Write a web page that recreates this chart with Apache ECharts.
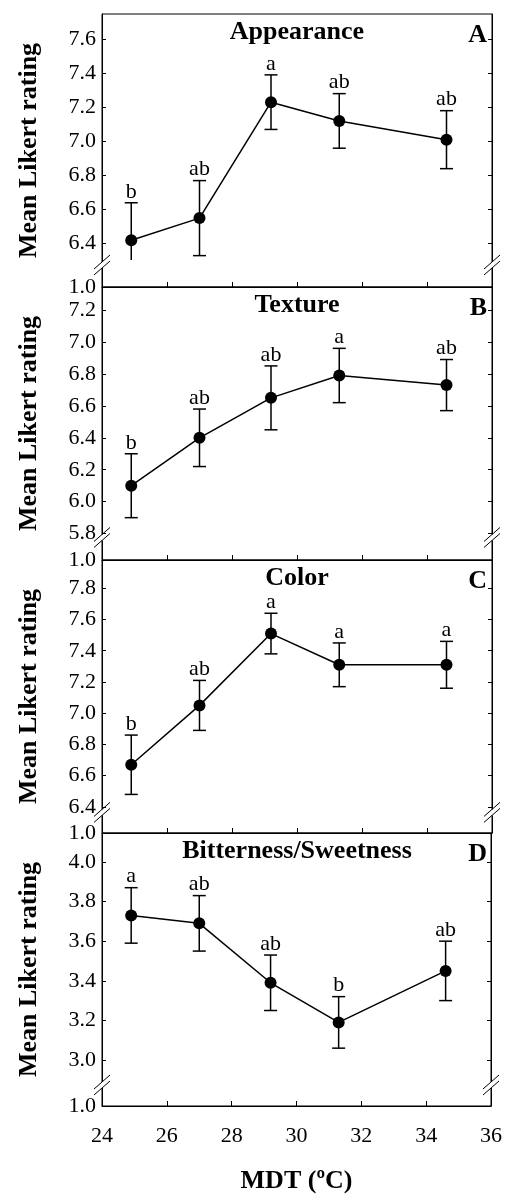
<!DOCTYPE html>
<html>
<head>
<meta charset="utf-8">
<title>Mean Likert rating vs MDT</title>
<script src="https://cdn.jsdelivr.net/npm/echarts@6/dist/echarts.min.js"></script>
<style>
  html, body { margin: 0; padding: 0; background: #fff; }
  #main { width: 505px; height: 1196px; }
</style>
</head>
<body>
<div id="main"></div>
<script type="text/javascript">
// --- data ---
var mdt = [24.9, 27.0, 29.2, 31.3, 34.6];

var appearance    = [6.42, 6.55, 7.23, 7.12, 7.01];
var appearanceErr = [0.22, 0.22, 0.16, 0.16, 0.17];
var appearanceSig = ['b', 'ab', 'a', 'ab', 'ab'];

var texture    = [6.10, 6.40, 6.65, 6.79, 6.73];
var textureErr = [0.20, 0.18, 0.20, 0.17, 0.16];
var textureSig = ['b', 'ab', 'ab', 'a', 'ab'];

var color    = [6.67, 7.05, 7.51, 7.31, 7.31];
var colorErr = [0.19, 0.16, 0.13, 0.14, 0.15];
var colorSig = ['b', 'ab', 'a', 'a', 'a'];

var bitter    = [3.73, 3.69, 3.39, 3.19, 3.45];
var bitterErr = [0.14, 0.14, 0.14, 0.13, 0.15];
var bitterSig = ['a', 'ab', 'ab', 'b', 'ab'];

// y tick labels (the bottom "1.0" sits below the axis break)
var ticksA = [6.4, 6.6, 6.8, 7.0, 7.2, 7.4, 7.6];
var ticksB = [5.8, 6.0, 6.2, 6.4, 6.6, 6.8, 7.0, 7.2];
var ticksC = [6.4, 6.6, 6.8, 7.0, 7.2, 7.4, 7.6, 7.8];
var ticksD = [3.0, 3.2, 3.4, 3.6, 3.8, 4.0];

var panels = [
  {title: 'Appearance', tag: 'A', y: appearance, err: appearanceErr, sig: appearanceSig, ticks: ticksA, min: 6.146, max: 7.747, brk: 6.275},
  {title: 'Texture', tag: 'B', y: texture, err: textureErr, sig: textureSig, ticks: ticksB, min: 5.635, max: 7.344, brk: 5.776},
  {title: 'Color', tag: 'C', y: color, err: colorErr, sig: colorSig, ticks: ticksC, min: 6.233, max: 7.981, brk: 6.365},
  {title: 'Bitterness/Sweetness', tag: 'D', y: bitter, err: bitterErr, sig: bitterSig, ticks: ticksD, min: 2.768, max: 4.146, brk: 2.874}
];

var FONT = "'Liberation Serif', 'Times New Roman', serif";
var BLACK = '#000';

var chart = echarts.init(document.getElementById('main'), null, {renderer: 'canvas'});

var grid = [], xAxis = [], yAxis = [], series = [];

panels.forEach(function (p, i) {
  var last = (i === panels.length - 1);
  grid.push({left: 102, width: 390, top: 14 + i * 273, height: 273,
             show: true, borderColor: BLACK, borderWidth: 1, backgroundColor: 'transparent'});

  xAxis.push({
    type: 'value', gridIndex: i, min: 24, max: 36, interval: 2,
    axisLine: {onZero: false, lineStyle: {color: BLACK, width: 1}},
    axisTick: {inside: true, length: 5, lineStyle: {color: BLACK}},
    axisLabel: {show: last, fontFamily: FONT, fontSize: 22, color: BLACK, margin: 19},
    splitLine: {show: false},
    name: last ? 'MDT (ºC)' : '',
    nameLocation: 'middle', nameGap: 62,
    nameTextStyle: {fontFamily: FONT, fontSize: 26, fontWeight: 'bold', color: BLACK}
  });

  var vals = [p.min].concat(p.ticks);
  var fmt = (function (mn) {
    return function (v) { return Math.abs(v - mn) < 1e-6 ? '1.0' : v.toFixed(1); };
  })(p.min);

  yAxis.push({
    type: 'value', gridIndex: i, min: p.min, max: p.max, position: 'left',
    axisLine: {show: true, lineStyle: {color: BLACK, width: 1}},
    axisTick: {show: true, inside: true, length: 4, customValues: vals, lineStyle: {color: BLACK}},
    axisLabel: {fontFamily: FONT, fontSize: 22, color: BLACK, margin: 6, customValues: vals, formatter: fmt},
    splitLine: {show: false},
    name: 'Mean Likert rating', nameLocation: 'middle', nameGap: 60,
    nameTextStyle: {fontFamily: FONT, fontSize: 26, fontWeight: 'bold', color: BLACK}
  });
  yAxis.push({
    type: 'value', gridIndex: i, min: p.min, max: p.max, position: 'right',
    axisLine: {show: true, lineStyle: {color: BLACK, width: 1}},
    axisTick: {show: true, inside: true, length: 4, customValues: vals, lineStyle: {color: BLACK}},
    axisLabel: {show: false},
    splitLine: {show: false}
  });

  // error bars + significance letters
  series.push({
    type: 'custom', xAxisIndex: i, yAxisIndex: i * 2, z: 2,
    data: mdt.map(function (x, k) { return [x, p.y[k], p.err[k]]; }),
    renderItem: function (params, api) {
      var x = api.value(0), m = api.value(1), e = api.value(2);
      var hi = api.coord([x, m + e]);
      var lo = api.coord([x, m - e]);
      var brkY = api.coord([x, p.brk])[1] - 5;
      var clipped = lo[1] > brkY;
      var loY = clipped ? brkY : lo[1];
      var st = {stroke: BLACK, lineWidth: 1.5};
      var kids = [
        {type: 'line', shape: {x1: hi[0], y1: hi[1], x2: hi[0], y2: loY}, style: st},
        {type: 'line', shape: {x1: hi[0] - 6.5, y1: hi[1], x2: hi[0] + 6.5, y2: hi[1]}, style: st},
        {type: 'text', x: hi[0], y: hi[1] - 11,
         style: {text: p.sig[params.dataIndex], fill: BLACK, font: '22px ' + FONT,
                 align: 'center', verticalAlign: 'middle'}}
      ];
      if (!clipped) {
        kids.push({type: 'line', shape: {x1: lo[0] - 6.5, y1: lo[1], x2: lo[0] + 6.5, y2: lo[1]}, style: st});
      }
      return {type: 'group', children: kids};
    }
  });

  series.push({
    type: 'line', xAxisIndex: i, yAxisIndex: i * 2, z: 3,
    data: mdt.map(function (x, k) { return [x, p.y[k]]; }),
    symbol: 'circle', symbolSize: 12,
    itemStyle: {color: BLACK},
    lineStyle: {color: BLACK, width: 1.5},
    animation: false
  });
});

chart.setOption({
  animation: false,
  grid: grid, xAxis: xAxis, yAxis: yAxis, series: series
});

// panel titles, panel tags and "//" axis-break marks
var g = [];
panels.forEach(function (p, i) {
  var top = chart.convertToPixel({gridIndex: i}, [24, p.max]);
  var bl = chart.convertToPixel({gridIndex: i}, [24, p.brk]);
  var br = chart.convertToPixel({gridIndex: i}, [36, p.brk]);
  g.push({type: 'text', x: 297, y: top[1] + 18, z: 10,
          style: {text: p.title, font: 'bold 26px ' + FONT, fill: BLACK, align: 'center', verticalAlign: 'middle'}});
  g.push({type: 'text', x: 487, y: top[1] + 21, z: 10,
          style: {text: p.tag, font: 'bold 26px ' + FONT, fill: BLACK, align: 'right', verticalAlign: 'middle'}});
  [bl, br].forEach(function (pt) {
    var cx = pt[0], cy = pt[1];
    g.push({type: 'rect', z: 10, shape: {x: cx - 2, y: cy - 3, width: 4, height: 6}, style: {fill: '#fff'}});
    [-3, 3].forEach(function (dy) {
      g.push({type: 'line', z: 11,
              shape: {x1: cx - 8, y1: cy + dy + 7, x2: cx + 8, y2: cy + dy - 7},
              style: {stroke: BLACK, lineWidth: 1}});
    });
  });
});
chart.setOption({graphic: g});
</script>
</body>
</html>
